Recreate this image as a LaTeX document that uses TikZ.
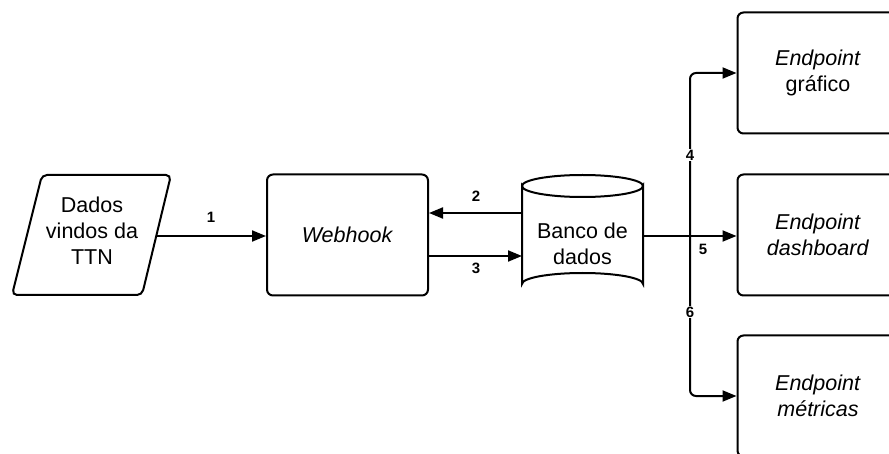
\documentclass[tikz,border=0pt]{standalone}
\usepackage{fontspec}
\setmainfont{Liberation Sans}
\usetikzlibrary{arrows.meta,calc}
\begin{document}
\begin{tikzpicture}[x=1pt,y=-1pt,
  box/.style={draw,line width=2pt,rounded corners=6pt,minimum width=161pt,minimum height=121pt,
    align=center,inner sep=0pt,font=\fontsize{21.5}{26}\selectfont},
  plain/.style={minimum width=#1,minimum height=121pt,inner sep=0pt,align=center,
    font=\fontsize{21.5}{26}\selectfont},
  arr/.style={line width=2pt,-{Triangle[length=14pt,width=11pt]}},
  lbl/.style={font=\fontsize{15}{15}\selectfont\bfseries,inner sep=1pt}]
\useasboundingbox (0,0) rectangle (889,454);
\clip (0,0) rectangle (889,454);

% input data (parallelogram)
\draw[line width=2pt,rounded corners=5pt] (42,175) -- (171,175) -- (142,295) -- (12,295) -- cycle;
\node[plain=130pt] (ttn) at (92,231) {Dados\\vindos da\\TTN};

% webhook
\node[box] (webhook) at (347.5,235) {\textit{Webhook}};

% database (cylinder)
\draw[line width=2pt,fill=white] (522,186) -- (522,284) arc[start angle=180,end angle=360,x radius=60.5,y radius=11]
  -- (643,186) arc[start angle=0,end angle=180,x radius=60.5,y radius=11] -- cycle;
\draw[line width=2pt] (522,186) arc[start angle=180,end angle=360,x radius=60.5,y radius=11];
\node[plain=121pt] (db) at (582.5,244) {Banco de\\dados};

% endpoints
\node[box] (ep1) at (818,73) {\textit{Endpoint}\\gráfico};
\node[box] (ep2) at (818,235) {\textit{Endpoint}\\\textit{dashboard}};
\node[box] (ep3) at (818,396) {\textit{Endpoint}\\\textit{métricas}};

% connectors
\draw[arr] (ttn.east |- 0,236) -- (webhook.west |- 0,236);
\node[lbl] (l1) at (211,217) {1};

\coordinate (db2) at (522,213);
\coordinate (db3) at (522,256);
\draw[arr] (db2) -- (webhook.east |- db2);
\node[lbl] (l2) at (476,196) {2};
\draw[arr] (webhook.east |- db3) -- (db3);
\node[lbl] (l3) at (476,268) {3};

\coordinate (dbout) at (643,236);
\coordinate (fork) at (690,236);
\draw[arr] (dbout) -- (ep2.west |- dbout);
\draw[arr,rounded corners=6pt] (fork) |- (ep1.west);
\draw[arr,rounded corners=6pt] (fork) |- (ep3.west);
\node[lbl,fill=white] (l4) at (690,155) {4};
\node[lbl] (l5) at (703,249) {5};
\node[lbl,fill=white] (l6) at (690,312) {6};
\end{tikzpicture}
\end{document}
